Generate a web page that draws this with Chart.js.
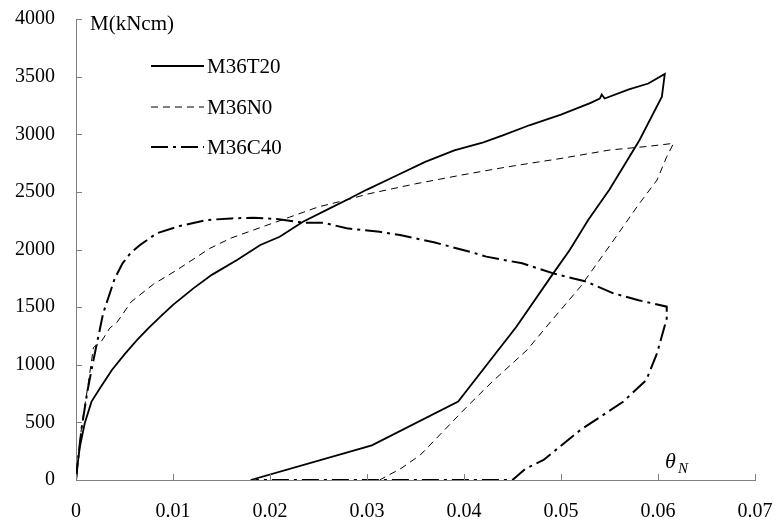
<!DOCTYPE html>
<html>
<head>
<meta charset="utf-8">
<script src="https://cdn.jsdelivr.net/npm/chart.js@4"></script>
<style>
  body { margin: 0; background: #fff; }
  #wrap { width: 777px; height: 526px; }
</style>
</head>
<body>
<div id="wrap"><canvas id="momentChart" width="777" height="526"></canvas></div>
<script>
// ---- data ----
const seriesNames = ['M36T20', 'M36N0', 'M36C40'];

const t20Theta = [0, 0.00013, 0.0004, 0.0009, 0.0016, 0.0025, 0.0037, 0.0050, 0.0063, 0.0075, 0.0087, 0.0100, 0.0121, 0.0140, 0.0166, 0.0190, 0.0210, 0.0234, 0.0260, 0.0279, 0.0300, 0.0330, 0.0360, 0.0390, 0.0420, 0.0440, 0.0468, 0.0500, 0.0530, 0.0540, 0.0542, 0.0545, 0.0570, 0.0590, 0.0607, 0.0604, 0.0581, 0.0550, 0.0528, 0.0509, 0.0492, 0.0454, 0.0394, 0.0305, 0.0180];
const t20M     = [0, 115, 289, 492, 680, 800, 954, 1090, 1215, 1320, 1417, 1520, 1663, 1780, 1909, 2039, 2111, 2241, 2350, 2430, 2520, 2640, 2760, 2860, 2930, 2990, 3080, 3170, 3270, 3310, 3345, 3310, 3390, 3440, 3523, 3326, 2950, 2520, 2256, 1996, 1793, 1330, 680, 300, 0];

const n0Theta = [0, 0.0003, 0.0006, 0.0012, 0.0018, 0.0026, 0.0035, 0.0042, 0.0057, 0.0080, 0.0104, 0.0138, 0.0160, 0.0190, 0.0220, 0.0250, 0.0279, 0.0300, 0.0350, 0.0400, 0.0440, 0.0468, 0.0500, 0.0550, 0.0590, 0.0616, 0.0609, 0.0599, 0.0580, 0.0552, 0.0520, 0.0490, 0.0465, 0.0430, 0.0403, 0.0355, 0.0335, 0.0313];
const n0M     = [0, 250, 480, 800, 1150, 1200, 1320, 1365, 1547, 1700, 1822, 2010, 2100, 2190, 2280, 2370, 2430, 2480, 2570, 2650, 2710, 2748, 2790, 2863, 2895, 2921, 2805, 2603, 2390, 2054, 1677, 1380, 1128, 860, 636, 217, 100, 0];

const c40Theta = [0, 0.0003, 0.0006, 0.0012, 0.0018, 0.0028, 0.0040, 0.0048, 0.0056, 0.0066, 0.0083, 0.0107, 0.0135, 0.0160, 0.0183, 0.0207, 0.0234, 0.0255, 0.0279, 0.0313, 0.0334, 0.0370, 0.0406, 0.0423, 0.0460, 0.0492, 0.0526, 0.0554, 0.0580, 0.0609, 0.0609, 0.0604, 0.0599, 0.0588, 0.0564, 0.0520, 0.0482, 0.0463, 0.0450, 0.0185];
const c40M     = [0, 250, 462, 781, 1041, 1446, 1750, 1880, 1967, 2039, 2140, 2204, 2256, 2270, 2276, 2265, 2233, 2233, 2184, 2154, 2126, 2060, 1981, 1938, 1880, 1793, 1721, 1620, 1560, 1504, 1400, 1250, 1099, 868, 679, 434, 174, 95, 0, 0];

const xTicks = [0, 0.01, 0.02, 0.03, 0.04, 0.05, 0.06, 0.07];
const xTickLabels = ['0', '0.01', '0.02', '0.03', '0.04', '0.05', '0.06', '0.07'];
const yTicks = [0, 500, 1000, 1500, 2000, 2500, 3000, 3500, 4000];
const yTickLabels = ['0', '500', '1000', '1500', '2000', '2500', '3000', '3500', '4000'];

const FONT = "'Liberation Serif', 'Times New Roman', serif";
const AXIS_COLOR = '#808080';

const toPoints = (xs, ys) => xs.map((x, i) => ({ x: x, y: ys[i] }));

// tick labels may hang over the plot box edge, don't let chart.js reserve room for that
const noOverflow = scale => {
    scale.paddingTop = 0;
    scale.paddingBottom = 0;
    scale.paddingLeft = 0;
    scale.paddingRight = 0;
};

// ticks pointing inwards + legend + axis titles
const decorPlugin = {
    id: 'decor',
    afterDraw(chart) {
        const ctx = chart.ctx;
        const xs = chart.scales.x;
        const ys = chart.scales.y;
        const area = chart.chartArea;

        ctx.save();
        ctx.strokeStyle = AXIS_COLOR;
        ctx.lineWidth = 1;
        ctx.beginPath();
        yTicks.forEach(v => {
            const py = Math.round(ys.getPixelForValue(v)) + 0.5;
            ctx.moveTo(area.left, py);
            ctx.lineTo(area.left + 6, py);
        });
        xTicks.forEach(v => {
            const px = Math.round(xs.getPixelForValue(v)) + 0.5;
            ctx.moveTo(px, area.bottom);
            ctx.lineTo(px, area.bottom - 6);
        });
        ctx.stroke();

        // legend
        ctx.fillStyle = '#000';
        ctx.textBaseline = 'middle';
        ctx.textAlign = 'left';
        ctx.font = '21px ' + FONT;
        const rowY = [66, 107, 147];
        chart.data.datasets.forEach((ds, i) => {
            ctx.strokeStyle = '#000';
            ctx.lineWidth = ds.borderWidth;
            ctx.setLineDash(ds.borderDash || []);
            ctx.beginPath();
            ctx.moveTo(151, rowY[i]);
            ctx.lineTo(204, rowY[i]);
            ctx.stroke();
            ctx.setLineDash([]);
            ctx.fillText(ds.label, 207, rowY[i] + 1);
        });

        // axis titles
        ctx.fillText('M(kNcm)', 90, 24);
        ctx.textBaseline = 'alphabetic';
        ctx.font = 'italic 22px ' + FONT;
        ctx.fillText('\u03B8', 665, 468);
        ctx.font = 'italic 15px ' + FONT;
        ctx.fillText('N', 678, 473);
        ctx.restore();
    }
};

const ctx = document.getElementById('momentChart');

new Chart(ctx, {
    type: 'scatter',
    data: {
        datasets: [
            {
                label: seriesNames[0],
                data: toPoints(t20Theta, t20M),
                borderColor: '#000',
                borderWidth: 1.8,
                borderDash: []
            },
            {
                label: seriesNames[1],
                data: toPoints(n0Theta, n0M),
                borderColor: '#000',
                borderWidth: 1,
                borderDash: [7, 5]
            },
            {
                label: seriesNames[2],
                data: toPoints(c40Theta, c40M),
                borderColor: '#000',
                borderWidth: 2,
                borderDash: [17, 5, 3, 5]
            }
        ]
    },
    options: {
        responsive: false,
        animation: false,
        showLine: true,
        elements: {
            point: { radius: 0, hoverRadius: 0 },
            line: { tension: 0, fill: false }
        },
        layout: { padding: { top: 19, right: 22, left: 0, bottom: 0 } },
        plugins: {
            legend: { display: false },
            tooltip: { enabled: false }
        },
        scales: {
            x: {
                type: 'linear',
                min: 0,
                max: 0.07,
                grid: { display: false, drawTicks: false },
                border: { display: true, color: AXIS_COLOR, width: 1 },
                afterBuildTicks: scale => { scale.ticks = xTicks.map(v => ({ value: v })); },
                afterFit: scale => { scale.height = 46; noOverflow(scale); },
                ticks: {
                    padding: 20,
                    color: '#000',
                    maxRotation: 0,
                    font: { family: FONT, size: 20 },
                    callback: (v, i) => xTickLabels[i]
                }
            },
            y: {
                type: 'linear',
                min: 0,
                max: 4000,
                grid: { display: false, drawTicks: false },
                border: { display: true, color: AXIS_COLOR, width: 1 },
                afterBuildTicks: scale => { scale.ticks = yTicks.map(v => ({ value: v })); },
                afterFit: scale => { scale.width = 76; noOverflow(scale); },
                ticks: {
                    padding: 21,
                    color: '#000',
                    font: { family: FONT, size: 20 },
                    callback: (v, i) => yTickLabels[i]
                }
            }
        }
    },
    plugins: [decorPlugin]
});
</script>
</body>
</html>
